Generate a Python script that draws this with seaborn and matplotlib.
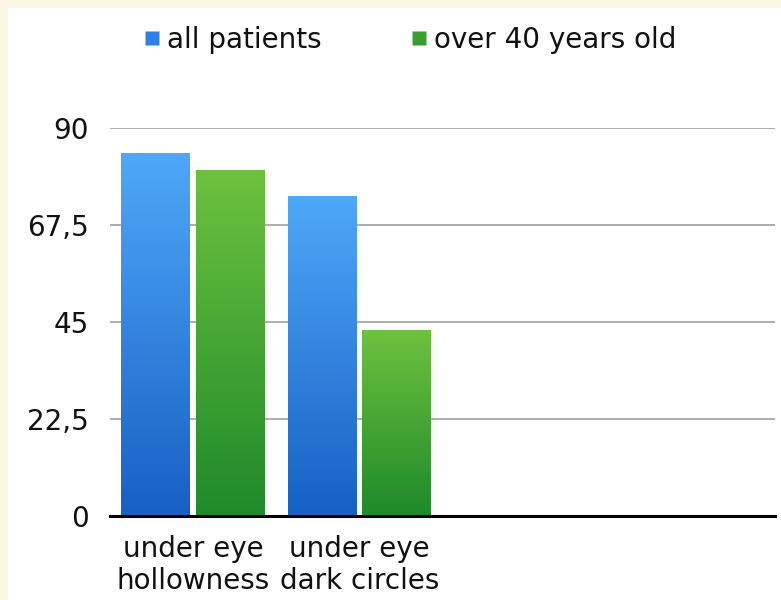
import matplotlib
matplotlib.use("Agg")
import matplotlib.pyplot as plt
from matplotlib.patches import Rectangle
from matplotlib.lines import Line2D
from matplotlib.colors import LinearSegmentedColormap
import numpy as np
import pandas as pd
import seaborn as sns

categories = ["under eye\nhollowness", "under eye\ndark circles"]
series_names = ["all patients", "over 40 years old"]
all_patients = [84.2, 74.2]
over_40 = [80.3, 43.1]
y_ticks = [0, 22.5, 45, 67.5, 90]
y_tick_labels = ["0", "22,5", "45", "67,5", "90"]
n_slots = 4  # category slots on the axis (two are empty)

top_colors = ["#4FA8F8", "#6DC23E"]
bottom_colors = ["#1760C4", "#1E8A2A"]
legend_colors = ["#2E80E2", "#3C9E30"]

df = pd.DataFrame({
    "category": categories * 2,
    "series": [series_names[0]] * 2 + [series_names[1]] * 2,
    "value": all_patients + over_40,
})

sns.set_theme(style="white")
plt.rcParams["font.family"] = ["DejaVu Sans"]

fig = plt.figure(figsize=(7.81, 6.0), dpi=100)
fig.patch.set_facecolor("#FDF8E4")
fig.patches.append(Rectangle((8 / 781, 0), 1, 1 - 8 / 600, transform=fig.transFigure,
                             facecolor="#FFFFFF", edgecolor="none", zorder=-5))
ax = fig.add_axes([110 / 781, 1 - 516 / 600, (775 - 110) / 781, (516 - 128) / 600])
ax.set_zorder(2)
ax.set_facecolor("none")

sns.barplot(data=df, x="category", y="value", hue="series", order=categories,
            hue_order=series_names, palette=legend_colors, width=0.9, gap=0.08,
            legend=False, ax=ax, zorder=2)

# gradient overlays for each bar
bars = [p for p in ax.patches if isinstance(p, Rectangle)]
for i, p in enumerate(bars):
    s = 0 if i < len(categories) else 1
    cmap = LinearSegmentedColormap.from_list("g", [bottom_colors[s], top_colors[s]])
    x0, y0 = p.get_x(), p.get_y()
    w, h = p.get_width(), p.get_height()
    grad = np.linspace(0, 1, 256).reshape(-1, 1)
    im = ax.imshow(grad, cmap=cmap, origin="lower", aspect="auto",
                   extent=(x0, x0 + w, y0, y0 + h), zorder=3)
    im.set_clip_path(p)
    p.set_edgecolor("none")

ax.set_xlim(-0.5, n_slots - 0.5)
ax.set_ylim(0, 90)
ax.set_yticks(y_ticks)
ax.set_yticklabels(y_tick_labels)
ax.set_xticks(range(len(categories)))
ax.set_xticklabels(categories, linespacing=1.15)
ax.tick_params(axis="y", length=0, pad=15, labelsize=20, labelcolor="#111111")
ax.tick_params(axis="x", length=0, pad=14, labelsize=20, labelcolor="#111111")
ax.set_xlabel("")
ax.set_ylabel("")
ax.yaxis.grid(True, color="#A0A0A0", linewidth=1.2, zorder=1)
ax.set_axisbelow(True)
for side in ["top", "right", "left"]:
    ax.spines[side].set_visible(False)
ax.spines["bottom"].set_color("#000000")
ax.spines["bottom"].set_linewidth(2.2)
ax.spines["bottom"].set_zorder(5)

handles = [Line2D([], [], marker="s", linestyle="none", markersize=10,
                  markerfacecolor=c, markeredgecolor="none") for c in legend_colors]
leg = fig.legend(handles, series_names, loc="center", bbox_to_anchor=(410 / 781, 1 - 40 / 600),
                 ncol=2, frameon=False, fontsize=20, handlelength=0.6, handletextpad=0.25,
                 columnspacing=3.2)
for t in leg.get_texts():
    t.set_color("#111111")

fig.savefig("out.png", dpi=100, facecolor=fig.get_facecolor())
